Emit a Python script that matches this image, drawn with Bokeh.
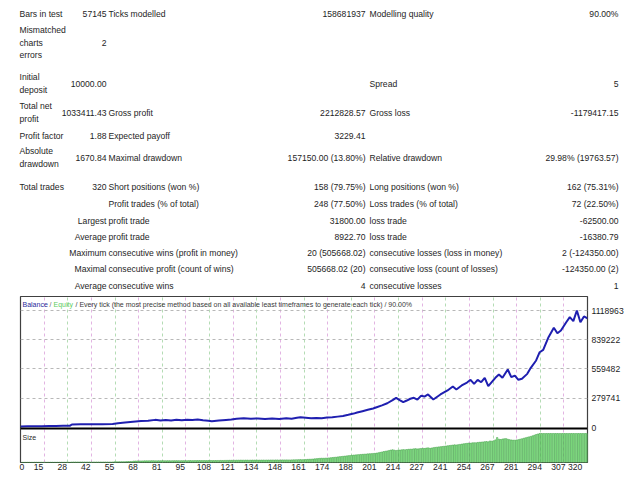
from bokeh.plotting import figure
from bokeh.models import Range1d, FixedTicker, Grid, Span, ColumnDataSource
from bokeh.embed import file_html
from bokeh.resources import INLINE
from bokeh.core.properties import value

FONT = "Liberation Sans"
TXT = "#1e1e1e"

# ---------------- report table ----------------
row_y = [13, 42, 83, 112, 135, 157, 186, 203, 220, 236, 252, 268, 285]
col1_labels = [["Bars in test"], ["Mismatched", "charts", "errors"], ["Initial", "deposit"],
               ["Total net", "profit"], ["Profit factor"], ["Absolute", "drawdown"],
               ["Total trades"], [], [], [], [], [], []]
col1_values = ["57145", "2", "10000.00", "1033411.43", "1.88", "1670.84", "320", "",
               "Largest", "Average", "Maximum", "Maximal", "Average"]
col2_labels = ["Ticks modelled", "", "", "Gross profit", "Expected payoff", "Maximal drawdown",
               "Short positions (won %)", "Profit trades (% of total)", "profit trade",
               "profit trade", "consecutive wins (profit in money)",
               "consecutive profit (count of wins)", "consecutive wins"]
col2_values = ["158681937", "", "", "2212828.57", "3229.41", "157150.00 (13.80%)",
               "158 (79.75%)", "248 (77.50%)", "31800.00", "8922.70", "20 (505668.02)",
               "505668.02 (20)", "4"]
col3_labels = ["Modelling quality", "", "Spread", "Gross loss", "", "Relative drawdown",
               "Long positions (won %)", "Loss trades (% of total)", "loss trade", "loss trade",
               "consecutive losses (loss in money)", "consecutive loss (count of losses)",
               "consecutive losses"]
col3_values = ["90.00%", "", "5", "-1179417.15", "", "29.98% (19763.57)", "162 (75.31%)",
               "72 (22.50%)", "-62500.00", "-16380.79", "2 (-124350.00)", "-124350.00 (2)", "1"]

# ---------------- balance curve (trade #, balance) ----------------
bal_trade = [0, 4, 8, 12, 16, 20, 24, 28, 29, 34, 40, 46, 52, 55, 59, 62, 65, 68, 72, 76, 79,
             82, 85, 88, 91, 94, 97, 100, 103, 106, 108, 112, 116, 119, 122, 126, 130, 134,
             138, 142, 146, 150, 153, 156, 158, 161, 164, 167, 170, 173, 176, 179, 182, 185,
             188, 190, 193, 196, 199, 201, 204, 207, 210, 212, 214, 216, 218, 220, 222, 224,
             226, 228, 230, 233, 237, 241, 244, 246, 249, 252, 254, 256, 258, 260, 262, 264,
             268, 270, 272, 275, 277, 279, 281, 283, 286, 288, 291, 293, 295, 298, 301, 303,
             305, 308, 310, 312, 314, 316, 318, 320]
bal_value = [10000, 11000, 12100, 13000, 14200, 15300, 16500, 17600, 29000, 30000, 30800,
             31600, 32500, 41000, 48000, 53000, 57000, 61000, 64000, 73000, 67000, 72000,
             68000, 74000, 70000, 75000, 71000, 76000, 69000, 64000, 60000, 66000, 72000,
             76000, 83000, 89000, 84000, 87000, 81000, 86000, 82000, 88000, 84000, 93000,
             98000, 93000, 88000, 92000, 89000, 95000, 98000, 104000, 110000, 121000, 133000,
             143000, 156000, 169000, 182000, 194000, 212000, 232000, 262000, 284000, 262000,
             242000, 258000, 275000, 284000, 266000, 303000, 296000, 316000, 268000, 316000,
             354000, 392000, 363000, 402000, 430000, 456000, 418000, 456000, 433000, 475000,
             395000, 475000, 507000, 475000, 555000, 481000, 497000, 456000, 466000, 513000,
             571000, 641000, 720000, 743000, 864000, 954000, 902000, 928000, 1007000, 1055000,
             1017000, 1118963, 1007000, 1062000, 1043411.43]

# ---------------- lot size per trade (1..320) ----------------
size_lots = [
    0.4, 0.4, 0.4, 0.4, 0.4, 0.4, 0.4, 0.5, 0.5, 0.5, 0.5, 0.5, 0.5, 0.5, 0.5, 0.5, 0.5, 0.5, 0.5, 0.5,
    0.5, 0.5, 0.5, 0.5, 0.5, 0.5, 0.5, 0.5, 0.9, 0.9, 0.9, 0.9, 0.9, 0.9, 0.9, 0.9, 0.9, 0.9, 0.9, 0.9,
    0.9, 0.9, 0.9, 0.9, 0.9, 0.9, 0.9, 0.9, 0.9, 0.9, 0.9, 0.9, 1.2, 1.2, 1.3, 1.3, 1.4, 1.4, 1.5, 1.6,
    1.7, 1.8, 1.9, 2.6, 2.6, 2.7, 2.7, 2.8, 2.8, 2.9, 2.9, 3.0, 3.0, 3.1, 3.1, 3.0, 3.0, 3.1, 3.0, 3.1,
    3.1, 3.0, 3.1, 3.1, 3.0, 3.2, 3.1, 3.2, 3.2, 3.1, 3.2, 3.2, 3.3, 3.2, 3.3, 3.3, 3.2, 3.3, 3.4, 3.3,
    3.4, 3.3, 3.4, 3.4, 3.3, 3.4, 3.5, 3.4, 3.3, 3.4, 3.5, 3.5, 3.6, 3.5, 3.6, 3.7, 3.7, 3.8, 3.8, 3.9,
    3.9, 4.0, 4.0, 4.1, 4.1, 4.0, 4.1, 4.1, 4.0, 4.1, 4.2, 4.1, 4.2, 4.2, 4.1, 4.2, 4.3, 4.2, 4.3, 4.3,
    4.3, 4.4, 4.3, 4.4, 4.4, 4.3, 4.4, 4.5, 4.4, 4.5, 4.5, 4.4, 4.5, 4.6, 4.7, 4.8, 4.9, 5.0, 4.9, 5.0,
    5.2, 5.4, 5.6, 5.8, 6.0, 6.3, 6.6, 6.9, 7.2, 7.4, 7.3, 7.5, 7.7, 7.9, 8.2, 8.5, 8.9, 9.2, 9.6, 10.0,
    10.3, 10.7, 11.0, 11.4, 11.8, 12.1, 12.4, 12.8, 13.1, 13.4, 13.6, 13.9, 14.1, 14.4, 14.6, 14.9, 15.1, 15.3, 15.6, 15.8,
    16.2, 16.8, 17.5, 18.2, 18.9, 19.5, 20.0, 20.8, 21.5, 22.0, 21.3, 20.8, 21.1, 21.4, 21.8, 22.2, 22.0, 22.4, 22.8, 23.0,
    23.1, 23.6, 23.9, 23.4, 23.8, 24.2, 24.6, 24.2, 24.9, 25.3, 24.5, 25.0, 25.6, 26.1, 26.5, 26.9, 27.2, 27.6, 28.0, 28.4,
    28.8, 29.2, 29.7, 30.1, 30.5, 30.2, 30.8, 31.2, 31.7, 32.2, 32.6, 33.1, 33.5, 33.2, 33.9, 34.2, 34.0, 34.6, 34.9, 35.2,
    35.5, 35.9, 36.2, 35.7, 37.2, 36.8, 37.5, 39.0, 43.0, 40.2, 39.6, 40.5, 41.0, 41.2, 40.1, 39.4, 38.9, 38.6, 38.5, 38.9,
    39.4, 40.2, 41.0, 41.8, 42.6, 43.4, 44.2, 45.0, 46.0, 47.1, 48.3, 49.2, 50.0, 50.0, 50.0, 50.0, 50.0, 50.0, 50.0, 50.0,
    50.0, 50.0, 50.0, 50.0, 50.0, 50.0, 50.0, 50.0, 50.0, 50.0, 50.0, 50.0, 50.0, 50.0, 50.0, 50.0, 50.0, 50.0, 50.0, 50.0,
]
size_trade = list(range(1, len(size_lots) + 1))

y_tick_values = [0, 279741, 559482, 839222, 1118963]
x_tick_labels = ["0", "15", "28", "42", "55", "68", "81", "95", "108", "121", "134", "148", "161",
                 "174", "188", "201", "214", "227", "241", "254", "267", "281", "294", "307", "320"]
chart_title = ["Balance", "/", "Equity", "/ Every tick (the most precise method based on all available least timeframes to generate each tick) / 90.00%"]

# ================= text figure (page pixels) =================
TOP_H = 294
tp = figure(width=640, height=TOP_H, x_range=Range1d(0, 640), y_range=Range1d(TOP_H, 0),
            x_axis_type=None, y_axis_type=None, output_backend="svg", toolbar_location=None,
            min_border=0, outline_line_color=None)
tp.grid.visible = False

C1L, C1R, C2L, C2R, C3L, C3R = 19, 106, 108, 365, 369, 618
lx, ly, lt = [], [], []
rx, ry, rt = [], [], []
for i, y in enumerate(row_y):
    lines = col1_labels[i]
    n = len(lines)
    for k, s in enumerate(lines):
        lx.append(C1L); ly.append(y + (k - (n - 1) / 2) * 12.4); lt.append(s)
    for xl, s in ((C2L, col2_labels[i]), (C3L, col3_labels[i])):
        if s:
            lx.append(xl); ly.append(y); lt.append(s)
    for xr, s in ((C1R, col1_values[i]), (C2R, col2_values[i]), (C3R, col3_values[i])):
        if s:
            rx.append(xr); ry.append(y); rt.append(s)

tp.text(x="x", y="y", text="t", source=ColumnDataSource(dict(x=lx, y=ly, t=lt)),
        text_font=value(FONT), text_font_size="8.6px", text_color=TXT,
        text_align="left", text_baseline="middle")
tp.text(x="x", y="y", text="t", source=ColumnDataSource(dict(x=rx, y=ry, t=rt)),
        text_font=value(FONT), text_font_size="8.6px", text_color=TXT,
        text_align="right", text_baseline="middle")

# ================= chart figure =================
FRAME_TOP = 296
FRAME_BOTTOM = 462
ZERO_Y = 427
TOP_VAL_Y = 310
per_px = y_tick_values[-1] / (ZERO_Y - TOP_VAL_Y)
y_end = (ZERO_Y - FRAME_TOP) * per_px
y_start = -(FRAME_BOTTOM - ZERO_Y) * per_px
frame_h = FRAME_BOTTOM - FRAME_TOP
lots_per_px = 50.0 / 29.0
NTR = 320
px_per_trade = 567.0 / NTR

cp = figure(width=640, height=480 - TOP_H, x_range=Range1d(0, NTR),
            y_range=Range1d(y_start, y_end), output_backend="svg", toolbar_location=None,
            min_border_left=20, min_border_right=53, min_border_top=FRAME_TOP - TOP_H,
            min_border_bottom=480 - FRAME_BOTTOM,
            y_axis_location="right", outline_line_color="#404040", outline_line_width=1.2,
            background_fill_color="white")
cp.extra_y_ranges = {"size": Range1d(0, frame_h * lots_per_px)}

# horizontal grid
cp.ygrid.ticker = FixedTicker(ticks=y_tick_values[1:])
cp.ygrid.grid_line_color = "#b8b8b8"
cp.ygrid.grid_line_dash = "3 3"
# vertical grid (alternating tints)
grid_pos = [i * NTR / 24 for i in range(1, 24)]
cp.xgrid.ticker = FixedTicker(ticks=grid_pos[0::2])
cp.xgrid.grid_line_color = "#e2b4e2"
cp.xgrid.grid_line_dash = "3 3"
g2 = Grid(dimension=0, ticker=FixedTicker(ticks=grid_pos[1::2]), grid_line_color="#b4dcb4",
          grid_line_dash="3 3")
cp.add_layout(g2)

# right axis
ya = cp.yaxis[0]
ya.ticker = FixedTicker(ticks=y_tick_values)
ya.major_label_overrides = {v: str(v) for v in y_tick_values}
ya.axis_line_color = None
ya.major_tick_line_color = None
ya.minor_tick_line_color = None
ya.major_tick_out = 0
ya.major_tick_in = 0
ya.major_label_standoff = 4
ya.major_label_text_font = FONT
ya.major_label_text_font_size = "8.6px"
ya.major_label_text_color = TXT

# bottom axis: labels sit just left of grid lines
lab_pos = [0.8] + [i * NTR / 24 - 5.5 / px_per_trade for i in range(1, 24)] + [313.0]
lab_pos = [round(v, 2) for v in lab_pos]
xa = cp.xaxis[0]
xa.ticker = FixedTicker(ticks=lab_pos)
xa.major_label_overrides = {p: s for p, s in zip(lab_pos, x_tick_labels)}
xa.axis_line_color = None
xa.major_tick_line_color = None
xa.minor_tick_line_color = None
xa.major_tick_out = 0
xa.major_tick_in = 0
xa.major_label_standoff = 1
xa.major_label_text_font = FONT
xa.major_label_text_font_size = "8.6px"
xa.major_label_text_color = TXT

# size bars
cp.vbar(x=size_trade, top=size_lots, bottom=0, width=0.75, y_range_name="size",
        fill_color="#9af29a", line_color="#34963a", line_width=0.5)

# separator between balance area and size area
cp.add_layout(Span(location=-(428 - ZERO_Y) * per_px, dimension="width",
                   line_color="#000000", line_width=2))

# balance line
cp.line(bal_trade, bal_value, line_color="#1f1fb0", line_width=2)

# chart title pieces
title_px = [22, 49, 53, 75]
title_col = ["#2a2a9a", "#6a6a6a", "#5ccd5c", "#3a3a3a"]
cp.text(x=[(p - 20) / px_per_trade for p in title_px], y=[(ZERO_Y - 304) * per_px] * 4,
        text=chart_title, text_color=title_col, text_font=value(FONT), text_font_size="7px",
        text_align="left", text_baseline="middle")
cp.text(x=[(22 - 20) / px_per_trade], y=[(ZERO_Y - 437) * per_px], text=["Size"],
        text_color="#2a2a2a", text_font=value(FONT), text_font_size="7px",
        text_align="left", text_baseline="middle")

open("out.html", "w").write(file_html([tp, cp], INLINE))
